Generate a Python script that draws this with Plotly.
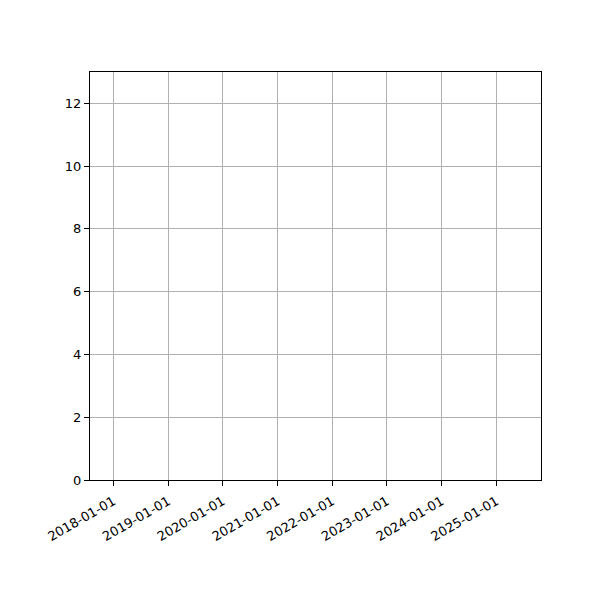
import plotly.graph_objects as go

# the reference axes hold no data at all, only the empty frame
dates = []
values = []

year_ticks = ["2018-01-01", "2019-01-01", "2020-01-01", "2021-01-01",
              "2022-01-01", "2023-01-01", "2024-01-01", "2025-01-01"]
y_ticks = [0, 2, 4, 6, 8, 10, 12]

x_range = ["2017-07-29", "2025-10-25"]
y_range = [0, 13]

fig = go.Figure()
fig.add_trace(go.Scatter(x=dates, y=values, mode="lines", showlegend=False))

axis_style = dict(
    showline=True, mirror=True, linecolor="black", linewidth=1,
    ticks="outside", ticklen=5, tickwidth=1, tickcolor="black",
    showgrid=True, gridcolor="#b0b0b0", gridwidth=1, zeroline=False,
    tickfont=dict(family="DejaVu Sans", size=13, color="black"),
)

fig.update_xaxes(type="date", range=x_range, tickvals=year_ticks,
                 ticktext=year_ticks, tickangle=-30, ticklabelstandoff=3,
                 **axis_style)
fig.update_yaxes(range=y_range, tickvals=y_ticks, **axis_style)

# page has an 8px body margin, so the margins are shifted to compensate
fig.update_layout(
    width=600, height=600,
    margin=dict(l=82, r=67, t=64, b=128),
    plot_bgcolor="white", paper_bgcolor="white",
    font=dict(family="DejaVu Sans", size=13, color="black"),
)

fig.write_html("out.html")
